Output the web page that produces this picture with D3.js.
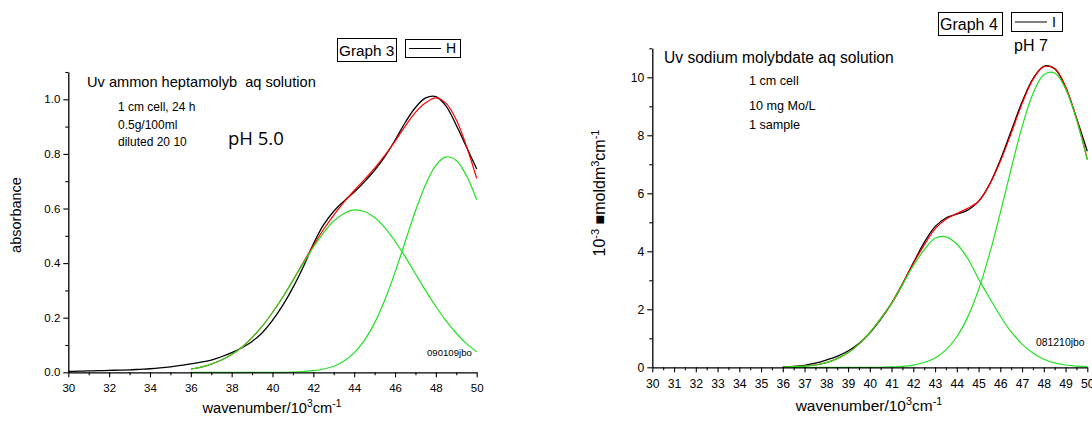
<!DOCTYPE html>
<html>
<head>
<meta charset="utf-8">
<script src="https://cdn.jsdelivr.net/npm/d3@7"></script>
<style>
  html, body { margin: 0; padding: 0; background: #fff; }
  svg { display: block; }
  text { font-family: "Liberation Sans", Arial, sans-serif; fill: #000; white-space: pre; }
</style>
</head>
<body>
<svg id="chart" width="1092" height="421"></svg>
<script>
// ---------------- Data: Graph 3 (left) ----------------
const leftMeasuredX = [30,30.5,31,31.5,32,32.5,33,33.5,34,34.5,35,35.5,36,36.5,37,37.5,38,38.5,39,39.5,40,40.5,41,41.5,42,42.5,43,43.5,44,44.5,45,45.5,46,46.5,47,47.5,48,48.5,49,49.5,50];
const leftMeasured  = [0.003,0.004,0.005,0.006,0.007,0.008,0.009,0.011,0.013,0.016,0.020,0.025,0.031,0.037,0.045,0.057,0.072,0.090,0.113,0.145,0.190,0.245,0.310,0.385,0.470,0.540,0.590,0.627,0.660,0.698,0.740,0.790,0.850,0.915,0.970,1.005,1.010,0.975,0.905,0.825,0.745];
const fitX          = [36,36.5,37,37.5,38,38.5,39,39.5,40,40.5,41,41.5,42,42.5,43,43.5,44,44.5,45,45.5,46,46.5,47,47.5,48,48.5,49,49.5,50];
const leftFit       = [0.012,0.019,0.030,0.045,0.065,0.092,0.127,0.169,0.219,0.275,0.337,0.401,0.464,0.523,0.576,0.623,0.666,0.706,0.748,0.795,0.846,0.902,0.952,0.987,1.005,0.985,0.925,0.828,0.710];
const leftPeak1     = [0.012,0.019,0.030,0.045,0.065,0.092,0.127,0.169,0.219,0.275,0.336,0.398,0.458,0.511,0.554,0.582,0.595,0.589,0.567,0.530,0.480,0.423,0.361,0.299,0.241,0.188,0.143,0.105,0.075];
const leftPeak2     = [0,0,0,0,0,0,0,0,0,0,0.001,0.003,0.006,0.012,0.022,0.041,0.071,0.117,0.181,0.265,0.366,0.479,0.591,0.688,0.758,0.789,0.776,0.720,0.632];
const leftXTicks    = [30,32,34,36,38,40,42,44,46,48,50];
const leftXMinor    = [31,33,35,37,39,41,43,45,47,49];
const leftYTicks    = [0,0.2,0.4,0.6,0.8,1.0];
const leftYMinor    = [0.1,0.3,0.5,0.7,0.9,1.1];

// ---------------- Data: Graph 4 (right) ----------------
const rightMeasured = [0.01,0.03,0.07,0.14,0.25,0.38,0.56,0.82,1.18,1.65,2.20,2.86,3.60,4.30,4.85,5.15,5.28,5.42,5.72,6.30,7.15,8.15,9.15,9.95,10.38,10.30,9.65,8.60,7.45];
const rightFit      = [0.01,0.02,0.04,0.08,0.16,0.30,0.50,0.80,1.20,1.68,2.215,2.885,3.578,4.214,4.774,5.102,5.303,5.48,5.727,6.293,7.095,8.071,9.088,9.919,10.368,10.30,9.684,8.587,7.171];
const rightPeak1    = [0.01,0.02,0.04,0.08,0.16,0.30,0.50,0.80,1.20,1.68,2.20,2.85,3.50,4.05,4.45,4.50,4.25,3.75,3.05,2.40,1.77,1.22,0.80,0.49,0.28,0.15,0.08,0.04,0.02];
const rightPeak2    = [0,0,0,0,0,0,0,0,0,0,0.015,0.035,0.078,0.164,0.324,0.602,1.053,1.730,2.677,3.893,5.325,6.851,8.288,9.429,10.088,10.15,9.604,8.547,7.151];
const rightXTicks   = [30,31,32,33,34,35,36,37,38,39,40,41,42,43,44,45,46,47,48,49,50];
const rightXMinor   = [30.5,31.5,32.5,33.5,34.5,35.5,36.5,37.5,38.5,39.5,40.5,41.5,42.5,43.5,44.5,45.5,46.5,47.5,48.5,49.5];
const rightYTicks   = [0,2,4,6,8,10];
const rightYMinor   = [1,3,5,7,9,11];

const BLACK = "#000000", RED = "#ff0000", GREEN = "#22e022";
const svg = d3.select("#chart");

function drawPanel(cfg) {
  const g = svg.append("g");
  const x = d3.scaleLinear().domain([30, 50]).range([cfg.x0, cfg.x1]);
  const y = d3.scaleLinear().domain([0, cfg.ymax]).range([cfg.y0, cfg.y1]);

  const line = (xs, ys) => d3.line()
    .x((d, i) => x(xs[i])).y(d => y(d))
    .curve(d3.curveCatmullRom.alpha(0.5))(ys);

  // Curves: measured, fit sum, then component peaks on top
  g.append("path").attr("d", line(cfg.mx, cfg.meas)).attr("fill", "none").attr("stroke", BLACK).attr("stroke-width", 1.3);
  g.append("path").attr("d", line(fitX, cfg.fit)).attr("fill", "none").attr("stroke", RED).attr("stroke-width", 1.2);
  g.append("path").attr("d", line(fitX, cfg.p1)).attr("fill", "none").attr("stroke", GREEN).attr("stroke-width", 1.2);
  g.append("path").attr("d", line(fitX, cfg.p2)).attr("fill", "none").attr("stroke", GREEN).attr("stroke-width", 1.2);

  // X axis
  const xa = g.append("g").attr("transform", `translate(0,${cfg.y0})`)
    .call(d3.axisBottom(x).tickValues(cfg.xt).tickSize(5).tickSizeOuter(0).tickFormat(d3.format("d")));
  g.append("g").attr("transform", `translate(0,${cfg.y0})`)
    .call(d3.axisBottom(x).tickValues(cfg.xm).tickSize(3).tickSizeOuter(0).tickFormat(""))
    .select(".domain").remove();
  // Y axis
  const ya = g.append("g").attr("transform", `translate(${cfg.x0},0)`)
    .call(d3.axisLeft(y).tickValues(cfg.yt).tickSize(5).tickSizeOuter(0).tickFormat(cfg.yfmt));
  g.append("g").attr("transform", `translate(${cfg.x0},0)`)
    .call(d3.axisLeft(y).tickValues(cfg.ym).tickSize(3).tickSizeOuter(0).tickFormat(""))
    .select(".domain").remove();

  g.selectAll(".domain").attr("stroke", "#000").attr("stroke-width", 1.3);
  g.selectAll(".tick line").attr("stroke", "#000").attr("stroke-width", 1.1);
  g.selectAll(".tick text").attr("font-family", "Liberation Sans, Arial, sans-serif").attr("font-size", cfg.tickFs).attr("fill", "#222");
  xa.selectAll(".tick text").attr("dy", "0").attr("y", cfg.xlabY);
  ya.selectAll(".tick text").attr("x", -8);
  return { g, x, y };
}

// ---------- Left panel ----------
drawPanel({
  x0: 68.3, x1: 476.7, y0: 372.3, y1: 72, ymax: 1.1,
  mx: leftMeasuredX, meas: leftMeasured, fit: leftFit, p1: leftPeak1, p2: leftPeak2,
  xt: leftXTicks, xm: leftXMinor, yt: leftYTicks, ym: leftYMinor,
  yfmt: d3.format(".1f"), xlabY: 19.5, tickFs: 11.5
});

// ---------- Right panel ----------
drawPanel({
  x0: 652.3, x1: 1087.3, y0: 367.3, y1: 48.3, ymax: 11,
  mx: fitX, meas: rightMeasured, fit: rightFit, p1: rightPeak1, p2: rightPeak2,
  xt: rightXTicks, xm: rightXMinor, yt: rightYTicks, ym: rightYMinor,
  yfmt: d3.format("d"), xlabY: 20.5, tickFs: 12.2
});

// ---------- Axis titles ----------
function xTitle(cx, by, fs) {
  const sup = fs * 0.7;
  const t = svg.append("text").attr("x", cx).attr("y", by).attr("text-anchor", "middle").attr("font-size", fs);
  t.append("tspan").text("wavenumber/10");
  t.append("tspan").attr("dy", -fs * 0.38).attr("font-size", sup).text("3");
  t.append("tspan").attr("dy", fs * 0.38).text("cm");
  t.append("tspan").attr("dy", -fs * 0.38).attr("font-size", sup).text("-1");
}
xTitle(272, 413, 14.7);
xTitle(869, 411, 15.5);

svg.append("text").attr("transform", "translate(21,215) rotate(-90)").attr("text-anchor", "middle")
  .attr("font-size", 14.5).text("absorbance");

{
  const fs = 16, sup = 11;
  const t = svg.append("text").attr("transform", "translate(605,193) rotate(-90)").attr("text-anchor", "middle").attr("font-size", fs);
  t.append("tspan").text("10");
  t.append("tspan").attr("dy", -6).attr("font-size", sup).text("-3");
  t.append("tspan").attr("dy", 6).text(" \u25A0moldm");
  t.append("tspan").attr("dy", -6).attr("font-size", sup).text("3");
  t.append("tspan").attr("dy", 6).text("cm");
  t.append("tspan").attr("dy", -6).attr("font-size", sup).text("-1");
}

// ---------- Annotations left ----------
svg.append("text").attr("x", 87).attr("y", 86.5).attr("font-size", 14.6).text("Uv ammon heptamolyb  aq solution");
[["1 cm cell, 24 h", 111], ["0.5g/100ml", 129], ["diluted 20 10", 146]].forEach(([s, yy]) =>
  svg.append("text").attr("x", 118).attr("y", yy).attr("font-size", 12).text(s));
svg.append("text").attr("x", 228).attr("y", 145).attr("font-size", 18.5)
  .style("font-family", "'Open Sans', 'Noto Sans', sans-serif").text("pH 5.0");
svg.append("text").attr("x", 427).attr("y", 356).attr("font-size", 9.6).attr("fill", "#333").text("090109jbo");

// ---------- Annotations right ----------
svg.append("text").attr("x", 664).attr("y", 63).attr("font-size", 15.6).text("Uv sodium molybdate aq solution");
[["1 cm cell", 85], ["10 mg Mo/L", 110], ["1 sample", 129]].forEach(([s, yy]) =>
  svg.append("text").attr("x", 749).attr("y", yy).attr("font-size", 12.6).text(s));
svg.append("text").attr("x", 1014).attr("y", 51).attr("font-size", 16).text("pH 7");
svg.append("text").attr("x", 1036).attr("y", 346).attr("font-size", 10.4).attr("fill", "#333").text("081210jbo");

// ---------- Legend / title boxes ----------
function titleBox(x0, y0, w, h, label, fs) {
  svg.append("rect").attr("x", x0 + 0.5).attr("y", y0 + 0.5).attr("width", w).attr("height", h)
    .attr("fill", "#fff").attr("stroke", "#000").attr("stroke-width", 1);
  svg.append("text").attr("x", x0 + 2).attr("y", y0 + h - 5).attr("font-size", fs).text(label);
}
function legendBox(x0, y0, w, h, label, fs) {
  svg.append("rect").attr("x", x0 + 0.5).attr("y", y0 + 0.5).attr("width", w).attr("height", h)
    .attr("fill", "#fff").attr("stroke", "#000").attr("stroke-width", 1);
  svg.append("line").attr("x1", x0 + 4).attr("x2", x0 + 36).attr("y1", y0 + h / 2 + 0.5).attr("y2", y0 + h / 2 + 0.5)
    .attr("stroke", "#000").attr("stroke-width", 1);
  svg.append("text").attr("x", x0 + 41).attr("y", y0 + h - 4).attr("font-size", fs).text(label);
}
titleBox(337, 38, 59, 23, "Graph 3", 15.3);
legendBox(405, 39, 55, 18, "H", 14);
titleBox(938, 12, 64, 23, "Graph 4", 16);
legendBox(1011, 12, 51, 19, "I", 14.5);
</script>
</body>
</html>
